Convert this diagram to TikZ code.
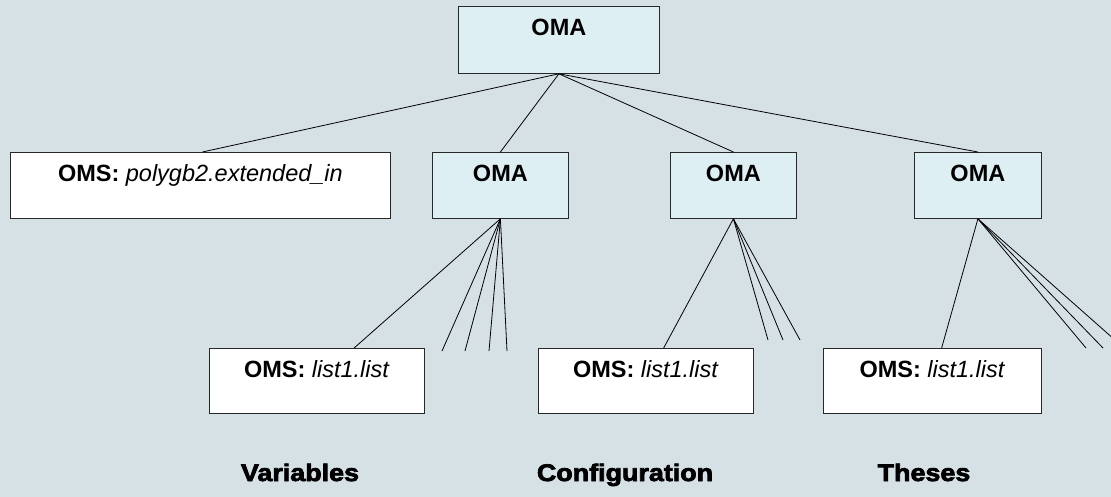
\documentclass[tikz,border=0pt]{standalone}
\usepackage{fontspec}
\setmainfont{Liberation Sans}
\newfontfamily\headfont[UprightFont={* Bold},FakeStretch=1.12,FakeBold=3]{Liberation Sans}
\definecolor{bg}{RGB}{214,225,230}
\definecolor{omafill}{RGB}{221,239,242}
\definecolor{boxline}{RGB}{40,40,40}
\begin{document}
\begin{tikzpicture}[x=1pt,y=-1pt,
  box/.style={draw=boxline, line width=0.8pt, inner sep=0pt,
    text height=29pt, text depth=37pt, anchor=north west,
    font=\fontsize{23.5}{23.5}\selectfont},
  omabox/.style={box, fill=omafill},
  omsbox/.style={box, fill=white},
  link/.style={line width=0.8pt, black},
  caption/.style={font=\headfont\fontsize{24}{24}\selectfont, anchor=base}]
  \fill[bg] (0,0) rectangle (1111,497);
  \clip (0,0) rectangle (1111,497);

  % application tree
  \node[omabox, minimum width=201pt, text depth=38pt] (top) at (458,6) {\textbf{OMA}};
  \node[omsbox, minimum width=380pt] (sym) at (10,152) {\textbf{OMS:} \textit{polygb2.extended\_in}};
  \node[omabox, minimum width=136pt] (a1) at (432,152) {\textbf{OMA}};
  \node[omabox, minimum width=126pt] (a2) at (670,152) {\textbf{OMA}};
  \node[omabox, minimum width=127pt] (a3) at (914,152) {\textbf{OMA}};

  \node[omsbox, minimum width=215pt, text depth=36pt] (l1) at (209,348) {\textbf{OMS:} \textit{list1.list}};
  \node[omsbox, minimum width=215pt, text depth=36pt] (l2) at (538,348) {\textbf{OMS:} \textit{list1.list}};
  \node[omsbox, minimum width=218pt, text depth=36pt] (l3) at (823,348) {\textbf{OMS:} \textit{list1.list}};

  % loose ends of the argument lists
  \coordinate (e11) at (442,351);
  \coordinate (e12) at (465,351);
  \coordinate (e13) at (489,351);
  \coordinate (e14) at (507,351);
  \coordinate (e21) at (768,340);
  \coordinate (e22) at (783,340);
  \coordinate (e23) at (800,340);
  \coordinate (e31) at (1086,348);
  \coordinate (e32) at (1103,348);
  \coordinate (e33) at (1124,348);
  \coordinate (symtop) at ([xshift=2pt]sym.north);

  \draw[link] (top.south) -- (symtop);
  \foreach \c in {a1,a2,a3} \draw[link] (top.south) -- (\c.north);
  \foreach \c in {l1,e11,e12,e13,e14} \draw[link] (a1.south) -- (\c);
  \foreach \c in {l2,e21,e22,e23} \draw[link] (a2.south) -- (\c);
  \foreach \c in {l3,e31,e32,e33} \draw[link] (a3.south) -- (\c);

  % captions
  \node[caption] (c1) at (300,481) {Variables};
  \node[caption] (c2) at (625,481) {Configuration};
  \node[caption] (c3) at (924,481) {Theses};
\end{tikzpicture}
\end{document}
